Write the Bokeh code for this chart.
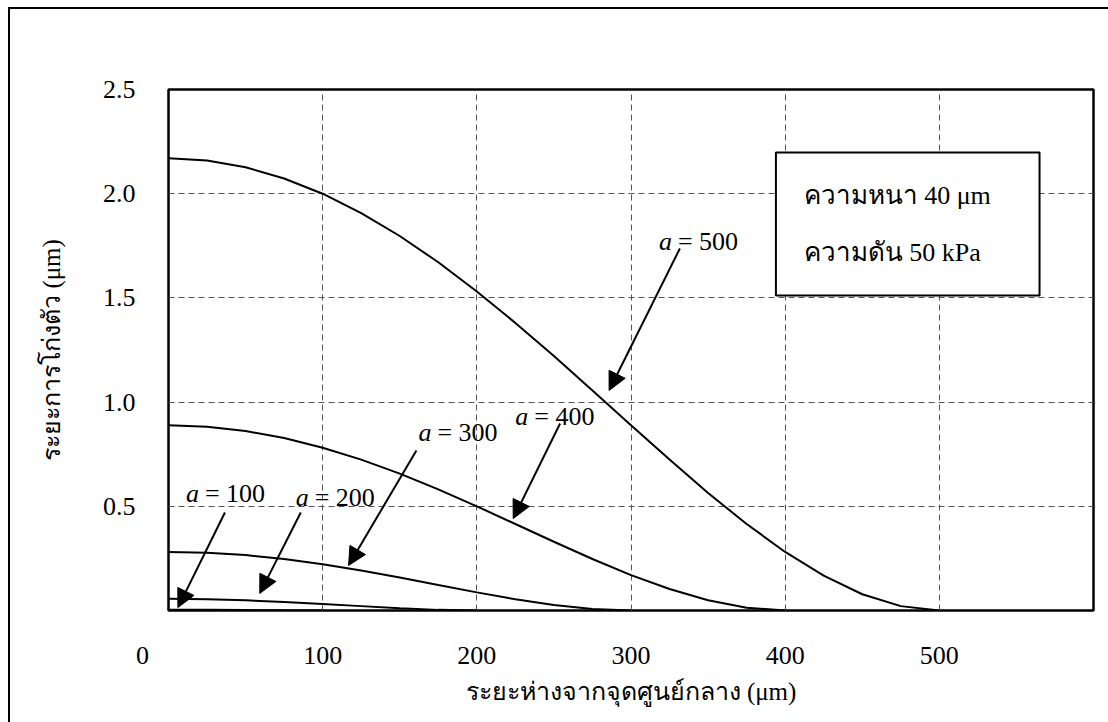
from bokeh.plotting import figure
from bokeh.models import FixedTicker, Arrow, NormalHead, Label, BoxAnnotation, InlineStyleSheet
from bokeh.embed import file_html
from bokeh.resources import INLINE

# ---- data ----
r_500 = [0, 25, 50, 75, 100, 125, 150, 175, 200, 225, 250, 275, 300, 325, 350, 375, 400, 425, 450, 475, 500]
w_500 = [2.170, 2.159, 2.127, 2.073, 2.000, 1.907, 1.797, 1.671, 1.531, 1.380, 1.221, 1.056, 0.889, 0.724, 0.564, 0.415, 0.281, 0.167, 0.078, 0.021, 0.0]
r_400 = [0, 25, 50, 75, 100, 125, 150, 175, 200, 225, 250, 275, 300, 325, 350, 375, 400]
w_400 = [0.889, 0.882, 0.861, 0.828, 0.781, 0.724, 0.657, 0.581, 0.500, 0.415, 0.330, 0.247, 0.170, 0.103, 0.049, 0.013, 0.0]
r_300 = [0, 25, 50, 75, 100, 125, 150, 175, 200, 225, 250, 275, 300]
w_300 = [0.281, 0.277, 0.266, 0.247, 0.222, 0.192, 0.158, 0.122, 0.087, 0.054, 0.026, 0.007, 0.0]
r_200 = [0, 25, 50, 75, 100, 125, 150, 175, 200]
w_200 = [0.056, 0.054, 0.049, 0.041, 0.031, 0.021, 0.011, 0.003, 0.0]
r_100 = [0, 25, 50, 75, 100]
w_100 = [0.0035, 0.0031, 0.0020, 0.0007, 0.0]

x_ticks = [0, 100, 200, 300, 400, 500]
x_tick_labels = ["0", "100", "200", "300", "400", "500"]
y_ticks = [0.5, 1.0, 1.5, 2.0, 2.5]
y_tick_labels = ["0.5", "1.0", "1.5", "2.0", "2.5"]
curve_names = ["a = 100", "a = 200", "a = 300", "a = 400", "a = 500"]
x_title = "ระยะห่างจากจุดศูนย์กลาง (μm)"
y_title = "ระยะการโก่งตัว (μm)"
info_lines = ["ความหนา 40 μm", "ความดัน 50 kPa"]

FONT = "Liberation Serif"
NB = "\u00a0"

p = figure(width=1108, height=722, x_range=(0, 600), y_range=(0, 2.5),
           output_backend="svg", toolbar_location=None,
           min_border_left=168, min_border_right=15, min_border_top=89, min_border_bottom=112)
p.background_fill_color = "white"
p.border_fill_color = "white"
p.outline_line_color = "black"
p.outline_line_width = 2.5

# outer border of the picture (only top and left edges are inside the window)
p.stylesheets = [InlineStyleSheet(css="""
:host::before { content: ''; position: absolute; left: 8px; top: 7px; width: 1100px; height: 2px;
  background: black; pointer-events: none; z-index: 10; }
:host::after { content: ''; position: absolute; left: 8px; top: 7px; width: 2px; height: 715px;
  background: black; pointer-events: none; z-index: 10; }
""")]

# axes
p.xaxis.ticker = FixedTicker(ticks=x_ticks)
p.yaxis.ticker = FixedTicker(ticks=y_ticks)
xo = dict(zip(x_ticks, x_tick_labels))
xo[0] = x_tick_labels[0] + NB * 8   # the corner "0" sits left of the axis origin
p.xaxis.major_label_overrides = xo
p.yaxis.major_label_overrides = dict(zip(y_ticks, y_tick_labels))
for ax in (p.xaxis[0], p.yaxis[0]):
    ax.axis_line_color = None
    ax.major_tick_line_color = None
    ax.minor_tick_line_color = None
    ax.major_label_text_font = FONT
    ax.major_label_text_font_size = "26px"
    ax.major_label_text_color = "black"
    ax.axis_label_text_font = FONT
    ax.axis_label_text_font_size = "25px"
    ax.axis_label_text_font_style = "normal"
    ax.axis_label_text_color = "black"
p.xaxis.major_label_standoff = 24
p.yaxis.major_label_standoff = 27
p.xaxis.axis_label = x_title
p.yaxis.axis_label = y_title
p.xaxis.axis_label_standoff = 5
p.yaxis.axis_label_standoff = 35

for g in (p.xgrid[0], p.ygrid[0]):
    g.grid_line_color = "#555555"
    g.grid_line_dash = "6 4"
    g.grid_line_width = 1

# curves
for rr, ww in [(r_100, w_100), (r_200, w_200), (r_300, w_300), (r_400, w_400), (r_500, w_500)]:
    p.line(rr, ww, line_color="black", line_width=2)

# info box
p.add_layout(BoxAnnotation(left=394, right=565, top=2.198, bottom=1.512,
                           fill_color="white", fill_alpha=1.0, line_color="black", line_alpha=1.0,
                           line_width=2, level="annotation"))
p.add_layout(Label(x=412, y=1.991, text=info_lines[0], text_font=FONT, text_font_size="26px",
                   text_align="left", text_baseline="middle", text_color="black"))
p.add_layout(Label(x=412, y=1.718, text=info_lines[1], text_font=FONT, text_font_size="26px",
                   text_align="left", text_baseline="middle", text_color="black"))

# annotation labels and arrows: (label left x, label y, arrow start, arrow tip)
ann = [
    (curve_names[0], 11.3, 0.561, (36.6, 0.470), (6.1, 0.014)),
    (curve_names[1], 82.5, 0.542, (85.8, 0.470), (59.2, 0.082)),
    (curve_names[2], 162.1, 0.854, (160.8, 0.768), (116.8, 0.216)),
    (curve_names[3], 224.9, 0.931, (254.0, 0.897), (223.6, 0.441)),
    (curve_names[4], 318.1, 1.771, (331.7, 1.737), (285.8, 1.056)),
]
for name, lx, ly, (xs, ys), (xe, ye) in ann:
    p.add_layout(Arrow(x_start=xs, y_start=ys, x_end=xe, y_end=ye, line_color="black", line_width=2,
                       end=NormalHead(size=18, fill_color="black", line_color="black")))
    p.add_layout(Label(x=lx, y=ly, text="a", text_font=FONT, text_font_style="italic",
                       text_font_size="26px", text_align="left", text_baseline="middle", text_color="black"))
    p.add_layout(Label(x=lx, y=ly, x_offset=19, text=name[2:], text_font=FONT,
                       text_font_size="26px", text_align="left", text_baseline="middle", text_color="black"))

open("out.html", "w").write(file_html(p, INLINE))
